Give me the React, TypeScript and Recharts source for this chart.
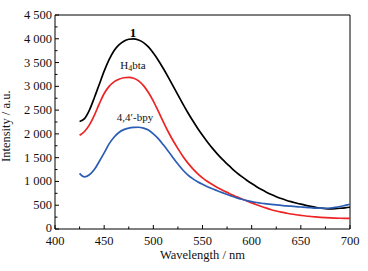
import React from "react";
import { LineChart, Line, XAxis, YAxis, ReferenceLine } from "recharts";

const wavelengths = [
  425, 430, 435, 440, 445, 450, 455, 460, 465, 470, 475, 480, 485, 490, 495, 500,
  505, 510, 515, 520, 525, 530, 535, 540, 545, 550, 555, 560, 565, 570, 575, 580,
  585, 590, 595, 600, 605, 610, 615, 620, 625, 630, 635, 640, 645, 650, 655, 660,
  665, 670, 675, 680, 685, 690, 695, 700,
];

const compound1 = [
  2260, 2320, 2500, 2760, 3040, 3320, 3560, 3750, 3870, 3950, 3990, 4000, 3975, 3920, 3830, 3700,
  3550, 3380, 3200, 3010, 2820, 2630, 2450, 2280, 2120, 1970, 1830, 1700, 1580, 1470, 1370, 1270,
  1180, 1100, 1025, 955, 890, 830, 775, 725, 680, 640, 605, 575, 548, 522, 498, 476,
  456, 440, 428, 424, 428, 436, 446, 458,
];

const h4bta = [
  1970, 2050, 2190, 2390, 2630, 2850, 3000, 3095, 3150, 3180, 3190, 3170, 3115, 3015, 2870, 2690,
  2480, 2260, 2050, 1860, 1690, 1530, 1390, 1270, 1165, 1075, 1000, 935, 875, 820, 770, 720,
  675, 630, 590, 550, 510, 472, 438, 406, 378, 355, 335, 316, 300, 286, 273, 263,
  254, 246, 239, 233, 229, 226, 225, 225,
];

const bpy = [
  1170, 1095, 1140, 1250, 1420, 1600, 1790, 1930, 2030, 2090, 2120, 2135, 2140, 2120, 2080, 2000,
  1900, 1775, 1640, 1500, 1365, 1240, 1140, 1060, 995, 940, 890, 845, 805, 765, 725, 690,
  655, 625, 598, 575, 557, 542, 530, 518, 507, 497, 487, 479, 471, 463, 455, 448,
  441, 437, 436, 441, 455, 474, 497, 520,
];

const xTicks = [400, 425, 450, 475, 500, 525, 550, 575, 600, 625, 650, 675, 700];
const xLabels = [400, 450, 500, 550, 600, 650, 700];
const yTicks = [0, 250, 500, 750, 1000, 1250, 1500, 1750, 2000, 2250, 2500, 2750, 3000, 3250, 3500, 3750, 4000, 4250, 4500];
const yLabels = [0, 500, 1000, 1500, 2000, 2500, 3000, 3500, 4000, 4500];

const data = wavelengths.map((w, i) => ({
  w,
  c1: compound1[i],
  h4bta: h4bta[i],
  bpy: bpy[i],
}));

const FONT = "'Liberation Serif', 'DejaVu Serif', serif";

const fmt = (v: number) => (v >= 1000 ? `${Math.floor(v / 1000)} ${String(v % 1000).padStart(3, "0")}` : String(v));

const XTick = ({ x, y, payload }: any) => {
  const major = xLabels.includes(payload.value);
  return (
    <g>
      <line x1={x} x2={x} y1={y} y2={y - (major ? 4 : 2.5)} stroke="#000" />
      {major && (
        <text x={x} y={y + 16} textAnchor="middle" fontSize={12.5} fontFamily={FONT} fill="#111">
          {payload.value}
        </text>
      )}
    </g>
  );
};

const YTick = ({ x, y, payload }: any) => {
  const major = yLabels.includes(payload.value);
  return (
    <g>
      <line x1={x} x2={x + (major ? 4 : 2.5)} y1={y} y2={y} stroke="#000" />
      {major && (
        <text x={x - 3} y={y + (payload.value === 0 ? 2.5 : 4)} textAnchor="end" fontSize={12.5} fontFamily={FONT} fill="#111">
          {fmt(payload.value)}
        </text>
      )}
    </g>
  );
};

export default function App() {
  return (
    <div style={{ position: "absolute", left: 0, top: 0, background: "#fff" }}>
      <LineChart width={368} height={271} data={data} margin={{ top: 15, right: 18, bottom: 12, left: 0 }}>
        <XAxis
          dataKey="w"
          type="number"
          domain={[400, 700]}
          ticks={xTicks}
          interval={0}
          tickSize={0}
          tickMargin={0}
          tickLine={false}
          tick={<XTick />}
          height={30}
          axisLine={{ stroke: "#000" }}
          label={{ value: "Wavelength / nm", position: "insideBottom", offset: 0, fontSize: 12.5, fontFamily: FONT, fill: "#111" }}
        />
        <YAxis
          type="number"
          domain={[0, 4500]}
          ticks={yTicks}
          interval={0}
          tickSize={0}
          tickMargin={0}
          tickLine={false}
          tick={<YTick />}
          width={55}
          axisLine={{ stroke: "#000" }}
          label={{ value: "Intensity / a.u.", angle: -90, position: "insideLeft", offset: 6, dy: 40, fontSize: 12.5, fontFamily: FONT, fill: "#111" }}
        />
        <ReferenceLine y={4500} stroke="#000" />
        <ReferenceLine x={700} stroke="#000" />
        <Line dataKey="c1" stroke="#000" strokeWidth={1.7} dot={false} isAnimationActive={false} type="monotone" />
        <Line dataKey="h4bta" stroke="#ee2323" strokeWidth={1.7} dot={false} isAnimationActive={false} type="monotone" />
        <Line dataKey="bpy" stroke="#2b5db5" strokeWidth={1.7} dot={false} isAnimationActive={false} type="monotone" />
        <text x={133} y={37} textAnchor="middle" fontSize={13} fontWeight="bold" fontFamily={FONT} fill="#000">1</text>
        <text x={133} y={69} textAnchor="middle" fontSize={11} fontFamily={FONT} fill="#111">
          H<tspan fontSize={8} dy={2}>4</tspan><tspan dy={-2}>bta</tspan>
        </text>
        <text x={135} y={121} textAnchor="middle" fontSize={11} fontFamily={FONT} fill="#111">4,4′-bpy</text>
      </LineChart>
    </div>
  );
}
